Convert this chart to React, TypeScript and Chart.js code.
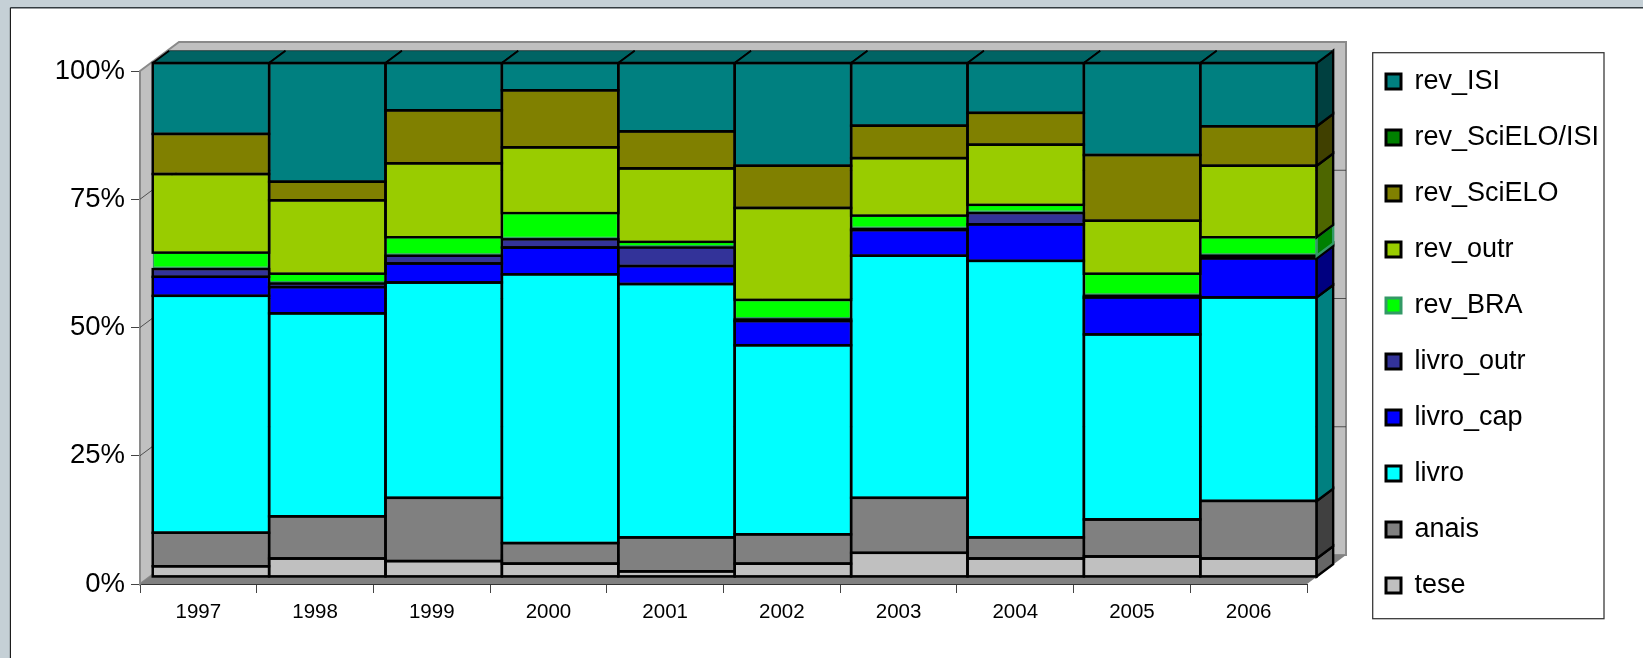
import React, { useEffect, useRef } from "react";
import { Chart, registerables } from "chart.js";

Chart.register(...registerables);

const years = ["1997", "1998", "1999", "2000", "2001", "2002", "2003", "2004", "2005", "2006"];
const tese = [2.1, 3.6, 3.1, 2.6, 1.1, 2.6, 4.7, 3.6, 4.0, 3.6];
const anais = [6.5, 8.2, 12.3, 4.0, 6.6, 5.7, 10.7, 4.1, 7.2, 11.2];
const livro = [46.1, 39.5, 41.9, 52.3, 49.3, 36.8, 47.1, 53.8, 36.0, 39.6];
const livroCap = [3.7, 5.1, 3.7, 5.2, 3.5, 4.7, 5.0, 7.1, 7.2, 7.6];
const livroOutr = [1.5, 0.7, 1.5, 1.6, 3.6, 0.3, 0.2, 2.2, 0.3, 0.5];
const revBra = [3.2, 1.9, 3.6, 5.1, 1.1, 3.8, 2.6, 1.6, 4.3, 3.6];
const revOutr = [15.3, 14.3, 14.4, 12.8, 14.3, 17.9, 11.2, 11.7, 10.3, 13.9];
const revScielo = [7.8, 3.6, 10.3, 11.1, 7.2, 8.2, 6.3, 6.2, 12.8, 7.7];
const revScieloIsi = [0, 0, 0, 0, 0, 0, 0, 0, 0, 0];
const revIsi = [13.8, 23.1, 9.2, 5.3, 13.3, 20.0, 12.2, 9.7, 17.9, 12.3];

const DEPTH_X = 39;
const DEPTH_Y = 29;
const BAR_DX = 16.5;
const BAR_DY = 12.3;
const GREEN_EDGE = "#339966";

const series = [
  { label: "tese", data: tese, backgroundColor: "#C0C0C0", side: "#666666", borderColor: "#000000" },
  { label: "anais", data: anais, backgroundColor: "#808080", side: "#404040", borderColor: "#000000" },
  { label: "livro", data: livro, backgroundColor: "#00FFFF", side: "#008080", borderColor: "#000000" },
  { label: "livro_cap", data: livroCap, backgroundColor: "#0000FF", side: "#000080", borderColor: "#000000" },
  { label: "livro_outr", data: livroOutr, backgroundColor: "#333399", side: "#1A1A4D", borderColor: "#000000" },
  { label: "rev_BRA", data: revBra, backgroundColor: "#00FF00", side: "#008000", borderColor: GREEN_EDGE },
  { label: "rev_outr", data: revOutr, backgroundColor: "#99CC00", side: "#4D6600", borderColor: "#000000" },
  { label: "rev_SciELO", data: revScielo, backgroundColor: "#808000", side: "#404000", borderColor: "#000000" },
  { label: "rev_SciELO/ISI", data: revScieloIsi, backgroundColor: "#008000", side: "#004000", borderColor: "#000000" },
  { label: "rev_ISI", data: revIsi, backgroundColor: "#008080", side: "#004040", borderColor: "#000000" },
];

const frame3d = {
  id: "frame3d",
  beforeDraw(chart: any) {
    const { ctx, width, height } = chart;
    ctx.save();
    ctx.fillStyle = "#C5D0D6";
    ctx.fillRect(0, 0, width, height);
    ctx.fillStyle = "#FFFFFF";
    ctx.fillRect(10, 8, width - 10, height - 8);
    ctx.strokeStyle = "#333B40";
    ctx.lineWidth = 1.5;
    ctx.beginPath();
    ctx.moveTo(10.4, 7.7);
    ctx.lineTo(width, 7.7);
    ctx.stroke();
    ctx.strokeStyle = "#111111";
    ctx.lineWidth = 1.1;
    ctx.beginPath();
    ctx.moveTo(10.4, height);
    ctx.lineTo(10.4, 7.7);
    ctx.stroke();
    ctx.strokeStyle = "#333333";
    ctx.lineWidth = 1.25;
    ctx.strokeRect(1372.7, 52.7, 231.3, 566);
    ctx.restore();
    const lg = chart.legend;
    if (lg) {
      lg.left = 1357;
      lg.right = 1357 + lg.width;
      lg.top = 39;
      lg.bottom = 658;
    }
  },
  beforeDatasetsDraw(chart: any) {
    const { ctx, chartArea, scales } = chart;
    const { left: l, right: r, top: t, bottom: b } = chartArea;
    ctx.save();
    ctx.fillStyle = "#C0C0C0";
    ctx.strokeStyle = "#8A8A8A";
    ctx.lineWidth = 2;
    ctx.beginPath();
    ctx.moveTo(l, t);
    ctx.lineTo(l + DEPTH_X, t - DEPTH_Y);
    ctx.lineTo(r + DEPTH_X, t - DEPTH_Y);
    ctx.lineTo(r + DEPTH_X, b - DEPTH_Y);
    ctx.lineTo(l + DEPTH_X, b - DEPTH_Y);
    ctx.lineTo(l, b);
    ctx.closePath();
    ctx.fill();
    ctx.stroke();
    ctx.fillStyle = "#808080";
    ctx.beginPath();
    ctx.moveTo(l, b);
    ctx.lineTo(l + DEPTH_X, b - DEPTH_Y);
    ctx.lineTo(r + DEPTH_X, b - DEPTH_Y);
    ctx.lineTo(r, b);
    ctx.closePath();
    ctx.fill();
    ctx.strokeStyle = "#333333";
    ctx.lineWidth = 0.8;
    for (const tick of scales.y.ticks) {
      if (tick.value <= 0 || tick.value >= 100) continue;
      const y = scales.y.getPixelForValue(tick.value);
      ctx.beginPath();
      ctx.moveTo(l, y);
      ctx.lineTo(l + DEPTH_X, y - DEPTH_Y);
      ctx.lineTo(r + DEPTH_X, y - DEPTH_Y);
      ctx.stroke();
    }
    ctx.restore();
    // map the axis box on to the front plane of the columns
    const fx = 1164 / (r - l);
    const fy = 514 / (b - t);
    ctx.save();
    ctx.translate(152.7, 577);
    ctx.scale(fx, fy);
    ctx.translate(-l, -b);
  },
  afterDatasetsDraw(chart: any) {
    const { ctx } = chart;
    const n = chart.data.datasets.length;
    const lw = 2.4;
    ctx.lineJoin = "miter";
    // solid outlines of the front faces
    ctx.strokeStyle = "#000000";
    ctx.lineWidth = lw;
    for (let i = 0; i < n; i++) {
      if (series[i].borderColor !== "#000000") continue;
      for (const el of chart.getDatasetMeta(i).data as any[]) {
        if (Math.abs(el.base - el.y) < 0.01) continue;
        ctx.strokeRect(el.x - el.width / 2, el.y, el.width, el.base - el.y);
      }
    }
    // right side faces of the last column
    for (let i = 0; i < n; i++) {
      const el = chart.getDatasetMeta(i).data[years.length - 1] as any;
      if (Math.abs(el.base - el.y) < 0.01) continue;
      const x = el.x + el.width / 2;
      ctx.fillStyle = series[i].side;
      ctx.strokeStyle = series[i].borderColor;
      ctx.lineWidth = lw;
      ctx.beginPath();
      ctx.moveTo(x, el.base);
      ctx.lineTo(x + BAR_DX, el.base - BAR_DY);
      ctx.lineTo(x + BAR_DX, el.y - BAR_DY);
      ctx.lineTo(x, el.y);
      ctx.closePath();
      ctx.fill();
      ctx.stroke();
    }
    // top faces
    const topMeta = chart.getDatasetMeta(n - 1).data as any[];
    for (const el of topMeta) {
      const a = el.x - el.width / 2;
      const z = el.x + el.width / 2;
      ctx.fillStyle = "#006464";
      ctx.beginPath();
      ctx.moveTo(a, el.y);
      ctx.lineTo(a + BAR_DX, el.y - BAR_DY);
      ctx.lineTo(z + BAR_DX, el.y - BAR_DY);
      ctx.lineTo(z, el.y);
      ctx.closePath();
      ctx.fill();
      ctx.strokeStyle = "#000000";
      ctx.lineWidth = 1.8;
      ctx.beginPath();
      ctx.moveTo(a, el.y);
      ctx.lineTo(a + BAR_DX, el.y - BAR_DY);
      ctx.moveTo(z, el.y);
      ctx.lineTo(z + BAR_DX, el.y - BAR_DY);
      ctx.stroke();
      ctx.lineWidth = 0.8;
      ctx.strokeStyle = "#1a3030";
      ctx.beginPath();
      ctx.moveTo(a + BAR_DX, el.y - BAR_DY);
      ctx.lineTo(z + BAR_DX, el.y - BAR_DY);
      ctx.stroke();
      ctx.strokeStyle = "#000000";
      ctx.lineWidth = lw;
      ctx.beginPath();
      ctx.moveTo(a, el.y);
      ctx.lineTo(z, el.y);
      ctx.stroke();
    }
    ctx.restore();
  },
};

export default function App() {
  const ref = useRef<HTMLCanvasElement | null>(null);
  useEffect(() => {
    if (!ref.current) return;
    const defaultLabels = (Chart.defaults as any).plugins.legend.labels.generateLabels;
    const chart = new Chart(ref.current, {
      type: "bar",
      data: {
        labels: years,
        datasets: series.map((s) => ({
          label: s.label,
          data: s.data,
          backgroundColor: s.backgroundColor,
          borderColor: s.borderColor,
          borderWidth:
            s.borderColor === GREEN_EDGE ? { top: 1.2, bottom: 2.6, left: 1.4, right: 1.4 } : 1.2,
          borderSkipped: false,
          inflateAmount: 0,
          barPercentage: 1,
          categoryPercentage: 1,
          clip: false as any,
        })),
      },
      options: {
        responsive: false,
        animation: false,
        devicePixelRatio: 1,
        layout: { padding: { left: 0, top: 71, right: 76, bottom: 0 } },
        plugins: {
          title: { display: false },
          tooltip: { enabled: false },
          legend: {
            display: true,
            position: "right",
            align: "start",
            reverse: true,
            maxWidth: 260,
            labels: {
              boxWidth: 15,
              boxHeight: 15,
              padding: 29,
              color: "#000000",
              font: { family: "'Liberation Sans', Arial, sans-serif", size: 27 },
              generateLabels: (c: any) =>
                defaultLabels(c).map((l: any) => ({ ...l, lineWidth: 3 })),
            },
          },
        },
        scales: {
          x: {
            stacked: true,
            z: 1,
            afterFit: (s: any) => {
              s.height = 74;
            },
            grid: {
              drawOnChartArea: false,
              drawTicks: true,
              tickLength: 9,
              tickWidth: 1,
              tickColor: "#444444",
              offset: true,
            },
            border: { display: true, color: "#333333", width: 1 },
            ticks: {
              maxRotation: 0,
              minRotation: 0,
              padding: 7,
              color: "#000000",
              font: { family: "'Liberation Sans', Arial, sans-serif", size: 20.5 },
            },
          },
          y: {
            stacked: true,
            min: 0,
            max: 100,
            z: 1,
            afterFit: (s: any) => {
              s.width = 140;
            },
            grid: {
              drawOnChartArea: false,
              drawTicks: true,
              tickLength: 9,
              tickWidth: 1,
              tickColor: "#444444",
            },
            border: { display: true, color: "#333333", width: 1 },
            ticks: {
              stepSize: 25,
              padding: 6,
              color: "#000000",
              font: { family: "'Liberation Sans', Arial, sans-serif", size: 27.5 },
              callback: (v: any) => `${v}%`,
            },
          },
        },
      },
      plugins: [frame3d],
    });
    return () => chart.destroy();
  }, []);
  return (
    <div style={{ position: "fixed", left: 0, top: 0, width: 1643, height: 658, overflow: "hidden" }}>
      <canvas ref={ref} width={1643} height={658} style={{ display: "block" }} />
    </div>
  );
}
